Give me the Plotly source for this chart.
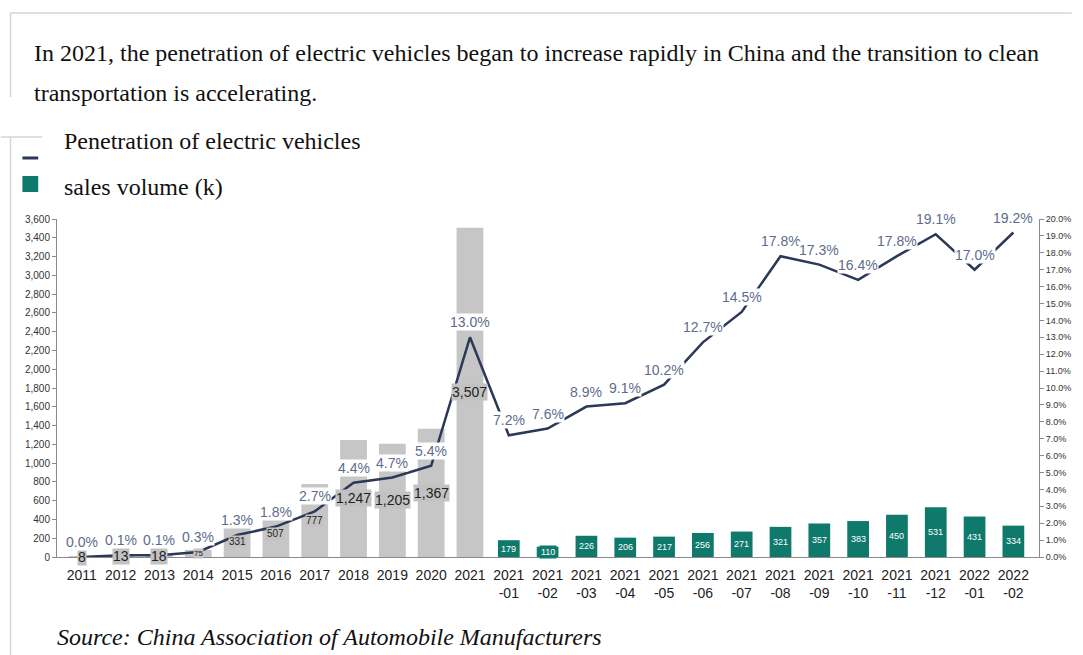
import plotly.graph_objects as go

# ---------------- data ----------------
categories = ["2011", "2012", "2013", "2014", "2015", "2016", "2017", "2018", "2019", "2020", "2021",
              "2021<br>-01", "2021<br>-02", "2021<br>-03", "2021<br>-04", "2021<br>-05", "2021<br>-06",
              "2021<br>-07", "2021<br>-08", "2021<br>-09", "2021<br>-10", "2021<br>-11", "2021<br>-12",
              "2022<br>-01", "2022<br>-02"]
annual_sales = [8, 13, 18, 75, 331, 507, 777, 1247, 1205, 1367, 3507]
monthly_sales = [179, 110, 226, 206, 217, 256, 271, 321, 357, 383, 450, 531, 431, 334]
penetration = [0.0, 0.1, 0.1, 0.3, 1.3, 1.8, 2.7, 4.4, 4.7, 5.4, 13.0,
               7.2, 7.6, 8.9, 9.1, 10.2, 12.7, 14.5, 17.8, 17.3, 16.4, 17.8, 19.1, 17.0, 19.2]
left_ticks = list(range(0, 3601, 200))
right_ticks = [i / 100 for i in range(0, 21)]

title_line1 = "In 2021, the penetration of electric vehicles began to increase rapidly in China and the transition to clean"
title_line2 = "transportation is accelerating."
legend_line = "Penetration of electric vehicles"
legend_bar = "sales volume (k)"
source_text = "Source: China Association of Automobile Manufacturers"

# ---------------- layout helpers ----------------
W, H = 1083, 655
L, R, T, B = 57, 1050, 219, 557


def px(x):
    return (x - L) / (R - L)


def py(y):
    return (B - y) / (B - T)


GRAY = "#c6c6c6"
TEAL = "#0f7a6b"
NAVY = "#2b3856"
PCT = "#5d6c8c"
SERIF = "Liberation Serif, Times New Roman, serif"
SANS = "Liberation Sans, Arial, sans-serif"
TXT = 24

n_annual = len(annual_sales)
x_annual = list(range(n_annual))
x_monthly = list(range(n_annual, n_annual + len(monthly_sales)))
x_all = list(range(len(categories)))

fig = go.Figure()
fig.add_trace(go.Bar(x=x_annual, y=annual_sales, width=0.69, marker_color=GRAY,
                     marker_line_width=0, showlegend=False, hoverinfo="skip"))
fig.add_trace(go.Bar(x=x_monthly, y=monthly_sales, width=0.56, marker_color=TEAL,
                     marker_line_width=0, showlegend=False, hoverinfo="skip"))
fig.add_trace(go.Scatter(x=x_all, y=[p / 100 for p in penetration], yaxis="y2", mode="lines",
                         line=dict(color=NAVY, width=2.5), showlegend=False, hoverinfo="skip"))

ann = []
# bar value labels (annual: gray boxes)
for x, v in zip(x_annual, annual_sales):
    if v < 20 or v >= 1000:
        fs = 14
    elif v < 100:
        fs = 8
    else:
        fs = 10
    ann.append(dict(x=x, y=v / 2, xref="x", yref="y", text=f"{v:,}", showarrow=False,
                    font=dict(family=SANS, size=fs, color="#222222"), bgcolor="#c2c2c2",
                    borderpad=0))
# monthly labels (white text on teal)
for x, v in zip(x_monthly, monthly_sales):
    ann.append(dict(x=x, y=v / 2, xref="x", yref="y", text=f"{v}", showarrow=False,
                    font=dict(family=SANS, size=9, color="white"), bgcolor=TEAL, borderpad=1))
# penetration labels
for x, p in zip(x_all, penetration):
    ann.append(dict(x=x, y=p / 100, xref="x", yref="y2", text=f"{p:.1f}%", showarrow=False,
                    yshift=15, font=dict(family=SANS, size=14, color=PCT), bgcolor="white",
                    borderpad=0))

# text blocks
for text, x, y in [(title_line1, 32, 53), (title_line2, 32, 93),
                   (legend_line, 62, 141), (legend_bar, 62, 187),
                   (f"<i>{source_text}</i>", 55, 637)]:
    ann.append(dict(x=px(x), y=py(y), xref="paper", yref="paper", xanchor="left",
                    yanchor="middle", text=text, showarrow=False,
                    font=dict(family=SERIF, size=TXT, color="#111111")))

shapes = [
    # document frame
    dict(type="line", xref="paper", yref="paper", x0=px(10), x1=px(1083), y0=py(13), y1=py(13),
         line=dict(color="#d6d6d6", width=1.5)),
    dict(type="line", xref="paper", yref="paper", x0=px(10), x1=px(10), y0=py(13), y1=py(97),
         line=dict(color="#d6d6d6", width=1.5)),
    dict(type="line", xref="paper", yref="paper", x0=px(0), x1=px(42), y0=py(137), y1=py(137),
         line=dict(color="#d6d6d6", width=1.5)),
    dict(type="line", xref="paper", yref="paper", x0=px(10), x1=px(10), y0=py(137), y1=py(655),
         line=dict(color="#d6d6d6", width=1.5)),
    # legend symbols
    dict(type="line", xref="paper", yref="paper", x0=px(22), x1=px(38), y0=py(158), y1=py(158),
         line=dict(color=NAVY, width=3)),
    dict(type="rect", xref="paper", yref="paper", x0=px(22), x1=px(38), y0=py(176), y1=py(192),
         fillcolor=TEAL, line=dict(width=0)),
]

fig.update_layout(
    width=W, height=H,
    margin=dict(l=L, r=W - R, t=T, b=H - B, pad=0),
    paper_bgcolor="white", plot_bgcolor="white",
    barmode="overlay",
    showlegend=False,
    annotations=ann,
    shapes=shapes,
    xaxis=dict(range=[-0.64, 24.66], tickmode="array", tickvals=x_all, ticktext=categories,
               showgrid=False, zeroline=False, showline=True, linecolor="#8a8a8a", linewidth=1,
               ticks="", ticklabelstandoff=5,
               tickfont=dict(family=SANS, size=14, color="#222222")),
    yaxis=dict(range=[0, 3600], tickmode="array", tickvals=left_ticks,
               ticktext=[f"{t:,}" for t in left_ticks], showgrid=False, zeroline=False,
               showline=True, linecolor="#8a8a8a", linewidth=1, ticks="outside", ticklen=4,
               tickcolor="#8a8a8a", tickfont=dict(family=SANS, size=10, color="#333333")),
    yaxis2=dict(range=[0, 0.2], overlaying="y", side="right", tickmode="array",
                tickvals=right_ticks, ticktext=[f"{t * 100:.1f}%" for t in right_ticks],
                showgrid=False, zeroline=False, showline=True, linecolor="#8a8a8a", linewidth=1,
                ticks="outside", ticklen=4, tickcolor="#8a8a8a",
                tickfont=dict(family=SANS, size=9, color="#333333")),
)

fig.write_html("out.html", config={"displayModeBar": False},
               post_script="document.body.style.margin='0px';")
